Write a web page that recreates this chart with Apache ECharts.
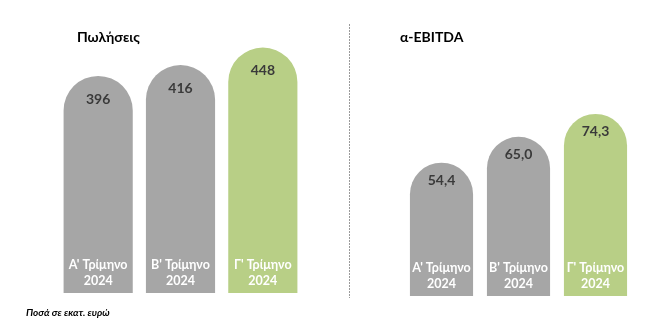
<!DOCTYPE html>
<html>
<head>
<meta charset="utf-8">
<script src="https://cdn.jsdelivr.net/npm/echarts@6/dist/echarts.min.js"></script>
<style>
  html, body { margin: 0; padding: 0; background: #ffffff; }
  #chart { width: 649px; height: 326px; }
</style>
</head>
<body>
<div id="chart"></div>
<script>
// Quarterly figures, million euros
const categories = ["Α' Τρίμηνο\n2024", "Β' Τρίμηνο\n2024", "Γ' Τρίμηνο\n2024"];
const salesValues = [396, 416, 448];
const ebitdaValues = [54.4, 65.0, 74.3];
const salesTitle = 'Πωλήσεις';
const ebitdaTitle = 'α-EBITDA';
const footnote = 'Ποσά σε εκατ. ευρώ';

const FONT = 'Lato, "Open Sans", "Noto Sans", sans-serif';
const GREY = '#a6a6a6';
const GREEN = '#b8cf86';

function colored(values) {
  return values.map((v, i) => ({
    value: v,
    itemStyle: { color: i === values.length - 1 ? GREEN : GREY }
  }));
}

function xAxisFor(gridIndex) {
  return {
    type: 'category',
    gridIndex: gridIndex,
    data: categories,
    z: 10,
    axisLine: { show: false },
    axisTick: { show: false },
    axisLabel: {
      inside: true,
      interval: 0,
      hideOverlap: false,
      margin: 4,
      color: '#ffffff',
      fontFamily: FONT,
      fontWeight: 'bold',
      fontSize: 12.5,
      lineHeight: 16
    }
  };
}

function yAxisFor(gridIndex, max) {
  return {
    type: 'value',
    gridIndex: gridIndex,
    min: 0,
    max: max,
    show: false,
    splitLine: { show: false }
  };
}

const chart = echarts.init(document.getElementById('chart'));
chart.setOption({
  backgroundColor: '#ffffff',
  animation: false,
  title: [
    { text: salesTitle, left: 72, top: 25,
      textStyle: { fontFamily: FONT, fontSize: 14, fontWeight: 'bold', color: '#000' } },
    { text: ebitdaTitle, left: 395, top: 25,
      textStyle: { fontFamily: FONT, fontSize: 14, fontWeight: 'bold', color: '#000' } },
    { text: footnote, left: 21, top: 303,
      textStyle: { fontFamily: FONT, fontSize: 10, fontWeight: 'bold', fontStyle: 'italic', color: '#000' } }
  ],
  graphic: [
    {
      type: 'line',
      shape: { x1: 349.5, y1: 24, x2: 349.5, y2: 298 },
      style: { stroke: '#9a9a9a', lineWidth: 1, lineDash: [2, 1] }
    }
  ],
  grid: [
    { left: 57, width: 247, top: 19, height: 274 },
    { left: 403, width: 231, top: 51, height: 245 }
  ],
  xAxis: [xAxisFor(0), xAxisFor(1)],
  yAxis: [yAxisFor(0, 500), yAxisFor(1, 100)],
  series: [
    {
      type: 'bar',
      xAxisIndex: 0,
      yAxisIndex: 0,
      data: colored(salesValues),
      barCategoryGap: '16%',
      itemStyle: { borderRadius: [100, 100, 0, 0] },
      label: {
        show: true,
        position: 'insideTop',
        distance: 16,
        color: '#3a3a3a',
        fontFamily: FONT,
        fontWeight: 'bold',
        fontSize: 14,
        formatter: p => String(p.value)
      }
    },
    {
      type: 'bar',
      xAxisIndex: 1,
      yAxisIndex: 1,
      data: colored(ebitdaValues),
      barCategoryGap: '18%',
      itemStyle: { borderRadius: [100, 100, 0, 0] },
      label: {
        show: true,
        position: 'insideTop',
        distance: 11,
        color: '#3a3a3a',
        fontFamily: FONT,
        fontWeight: 'bold',
        fontSize: 14,
        formatter: p => p.value.toFixed(1).replace('.', ',')
      }
    }
  ]
});
</script>
</body>
</html>
